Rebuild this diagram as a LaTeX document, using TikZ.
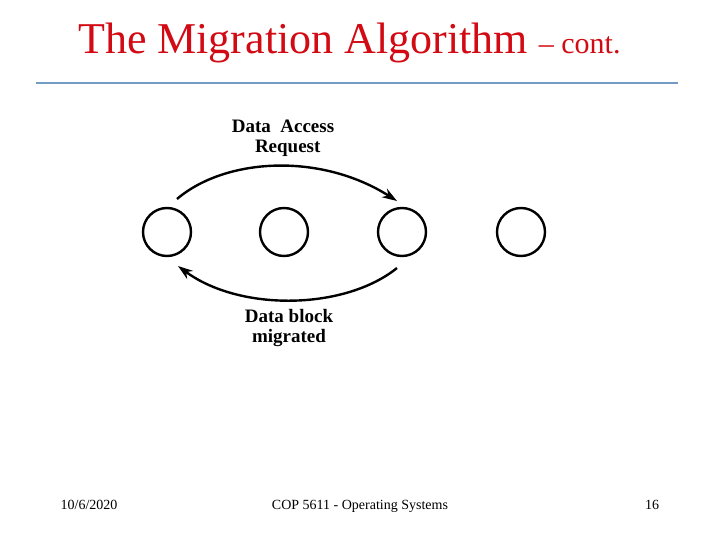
\documentclass[tikz,border=0pt]{standalone}
\usepackage{fontspec}
\setmainfont{Liberation Serif}
\usetikzlibrary{arrows.meta}
\definecolor{titlered}{RGB}{210,10,20}
\definecolor{rulecol}{RGB}{115,155,195}
\tikzset{
  proc/.style={circle, draw=black, line width=2.4pt, minimum size=48pt, inner sep=0pt},
  flow/.style={line width=2.4pt, -{Stealth[length=15pt,width=10pt]}},
  lbl/.style={font=\fontsize{19}{20}\selectfont\bfseries, align=center, inner sep=0pt},
  foot/.style={font=\fontsize{14}{16}\selectfont, inner sep=0pt, anchor=base}
}
\begin{document}
\begin{tikzpicture}[x=1pt,y=-1pt]
\useasboundingbox (0,0) rectangle (720,540);
\node[anchor=base west, inner sep=0pt, text=titlered, font=\fontsize{44}{48}\selectfont] (title) at (78,54) {The Migration Algorithm {\fontsize{30}{32}\selectfont – cont.}};
\draw[rulecol, line width=1.5pt] (36,83) coordinate (r1) -- (678,83) coordinate (r2);
\node[proc] (p1) at (167,232) {};
\node[proc] (p2) at (284,232) {};
\node[proc] (p3) at (402,232) {};
\node[proc] (p4) at (521,232) {};
\coordinate (a1) at (177,199);
\coordinate (a2) at (397,201);
\coordinate (b1) at (397,268);
\coordinate (b2) at (178,266);
\draw[flow] (a1) .. controls (225,158) and (320,152) .. (a2);
\draw[flow] (b1) .. controls (345,310) and (240,312) .. (b2);
\node[lbl] (req) at (283,138) {Data\ \ Access\\[0pt]\ \ Request};
\node[lbl] (mig) at (289,328) {Data block\\[0pt]migrated};
\node[foot] (date) at (89,509) {10/6/2020};
\node[foot] (course) at (360,509) {COP 5611 - Operating Systems};
\node[foot] (page) at (652,509) {16};
\end{tikzpicture}
\end{document}
